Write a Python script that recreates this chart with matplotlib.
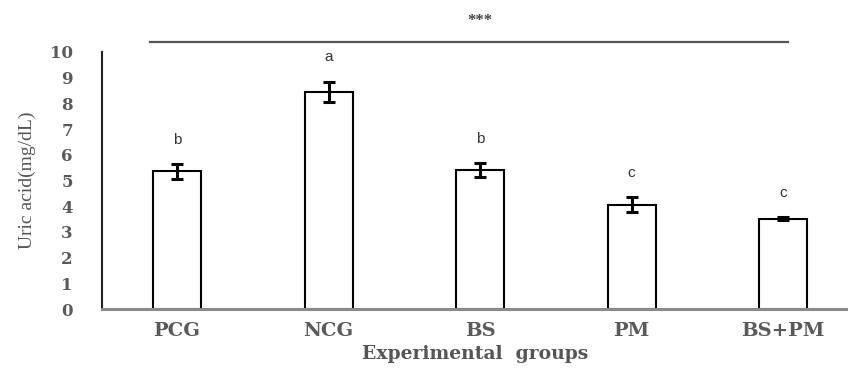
import numpy as np
import matplotlib
matplotlib.use('Agg')
import matplotlib.pyplot as plt

# uric acid per group, mean and error
groups = ['PCG', 'NCG', 'BS', 'PM', 'BS+PM']
uric_acid = [5.35, 8.46, 5.41, 4.06, 3.51]
uric_err = [0.28, 0.39, 0.26, 0.28, 0.06]
letters = ['b', 'a', 'b', 'c', 'c']
overall_sig = '***'

serif = ['Liberation Serif', 'DejaVu Serif']
wide_serif = ['DejaVu Serif']
tick_grey = '#5a5a5a'

fig = plt.figure(figsize=(8.48, 3.71), dpi=100)
ax = fig.add_axes([0.1203, 0.167, 0.88, 0.693])

x = np.arange(len(groups))
ax.bar(x, uric_acid, width=0.317, color='white', edgecolor='black', linewidth=1.5, zorder=2)
ax.errorbar(x, uric_acid, yerr=uric_err, fmt='none', ecolor='black',
            elinewidth=2.2, capsize=4.5, capthick=2.2, zorder=3)

# letters above each error bar
for xi, val, err, lab in zip(x, uric_acid, uric_err, letters):
    ax.text(xi, val + err + 0.95, lab, ha='center', va='center',
            fontsize=11, color='#333333', family=['Liberation Sans', 'DejaVu Sans'])

# overall significance bar above the plot
ax.plot([-0.18, 4.03], [10.39, 10.39], color='#555555', lw=1.6, clip_on=False)
ax.text(2.0, 11.2, overall_sig, ha='center', va='center', fontsize=12,
        fontweight='bold', color='#444444', family=serif)

ax.set_xlim(-0.495, 4.43)
ax.set_ylim(0, 10)
ax.set_yticks(range(0, 11))
ax.set_xticks(x)
ax.set_xticklabels(groups)
ax.tick_params(length=0)
ax.tick_params(axis='y', pad=21)
ax.tick_params(axis='x', pad=9)
for lab in ax.get_yticklabels():
    lab.set_fontfamily(wide_serif)
    lab.set_fontweight('bold')
    lab.set_fontsize(12)
    lab.set_color(tick_grey)
for lab in ax.get_xticklabels():
    lab.set_fontfamily(wide_serif)
    lab.set_fontweight('bold')
    lab.set_fontsize(14)
    lab.set_color(tick_grey)

for side in ['top', 'right']:
    ax.spines[side].set_visible(False)
ax.spines['left'].set_color('#222222')
ax.spines['left'].set_linewidth(1.5)
ax.spines['bottom'].set_color('#8a8a8a')
ax.spines['bottom'].set_linewidth(2.2)

ax.set_ylabel('Uric acid(mg/dL)', fontsize=14, family=serif, color='#555555', labelpad=10)
ax.set_xlabel('Experimental  groups', fontsize=13.5, family=wide_serif, fontweight='bold',
              color='#555555', labelpad=4)

fig.savefig('out.png', dpi=100)
